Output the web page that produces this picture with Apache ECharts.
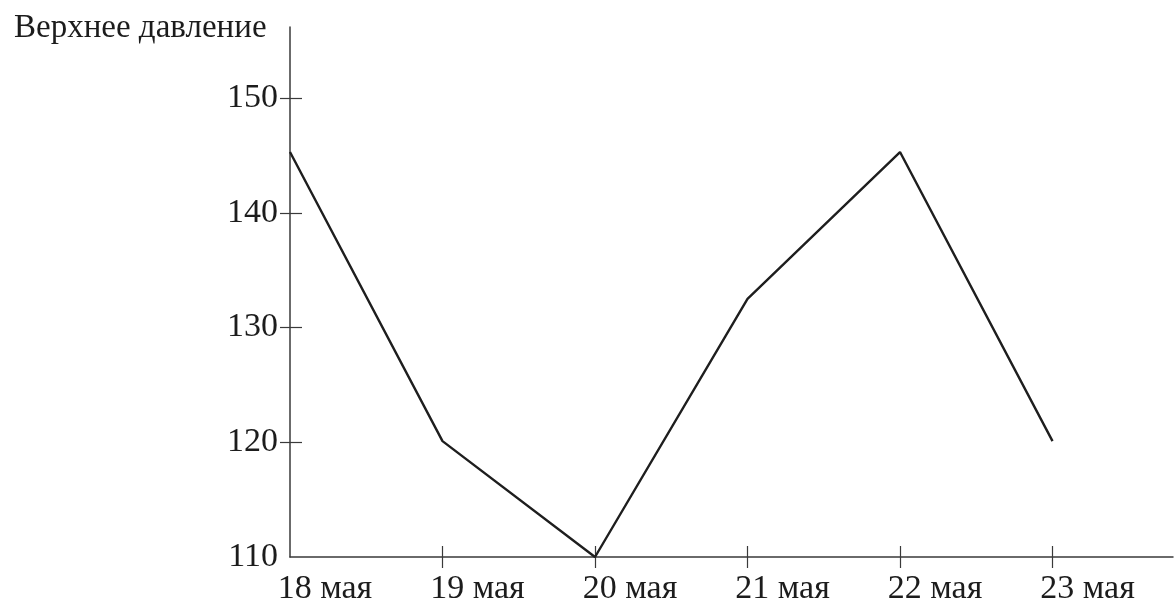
<!DOCTYPE html>
<html><head><meta charset="utf-8">
<script src="https://cdn.jsdelivr.net/npm/echarts@6/dist/echarts.min.js"></script>
<style>html,body{margin:0;padding:0;background:#fff}#c{width:1175px;height:601px}</style>
</head><body><div id="c"></div>
<script>
const categories = ['18 мая','19 мая','20 мая','21 мая','22 мая','23 мая'];
const pressure = [145.3, 120.1, 110, 132.5, 145.3, 120.1];
const yTicks = [110, 120, 130, 140, 150];
const title = 'Верхнее давление';

const FONT = 'Liberation Serif';
const AX = '#3a3a3a';
const data = pressure.map((v, i) => [i, v]);
const xIdx = categories.map((_, i) => i);

const chart = echarts.init(document.getElementById('c'), null, {renderer: 'canvas'});
chart.setOption({
  animation: false,
  backgroundColor: '#fff',
  title: {text: title, left: 9, top: 7, textStyle: {fontFamily: FONT, fontWeight: 'normal', fontSize: 33, color: '#1c1c1c'}},
  grid: {left: 290, right: 2, top: 27, bottom: 44, containLabel: false, outerBoundsMode: 'none'},
  xAxis: [{
    type: 'value', min: 0, max: 5.79,
    splitLine: {show: false},
    axisLine: {lineStyle: {color: AX, width: 1.5}},
    axisTick: {show: true, length: 11, customValues: xIdx.slice(1), lineStyle: {color: AX, width: 1.2}},
    axisLabel: {
      customValues: xIdx, margin: 15,
      formatter: v => '{s|}{t|' + categories[Math.round(v)] + '}',
      rich: {s: {width: 70}, t: {fontFamily: FONT, fontSize: 34, color: '#1c1c1c'}}
    }
  }, {
    type: 'value', min: 0, max: 5.79, position: 'bottom',
    splitLine: {show: false},
    axisLine: {show: false},
    axisTick: {show: true, inside: true, length: 11, customValues: xIdx.slice(1), lineStyle: {color: AX, width: 1.2}},
    axisLabel: {show: false}
  }],
  yAxis: [{
    type: 'value', min: 110, max: 156.2,
    splitLine: {show: false},
    axisLine: {show: true, lineStyle: {color: AX, width: 1.5}},
    axisTick: {show: true, length: 10, customValues: yTicks.slice(1), lineStyle: {color: AX, width: 1.2}},
    axisLabel: {customValues: yTicks, margin: 12, fontFamily: FONT, fontSize: 34, color: '#1c1c1c'}
  }, {
    type: 'value', min: 110, max: 156.2, position: 'left',
    splitLine: {show: false},
    axisLine: {show: false},
    axisTick: {show: true, inside: true, length: 12, customValues: yTicks.slice(1), lineStyle: {color: AX, width: 1.2}},
    axisLabel: {show: false}
  }],
  series: [{
    type: 'line', data: data, xAxisIndex: 0, yAxisIndex: 0,
    symbol: 'none', lineStyle: {color: '#1e1e1e', width: 2.4}
  }]
});
</script></body></html>
